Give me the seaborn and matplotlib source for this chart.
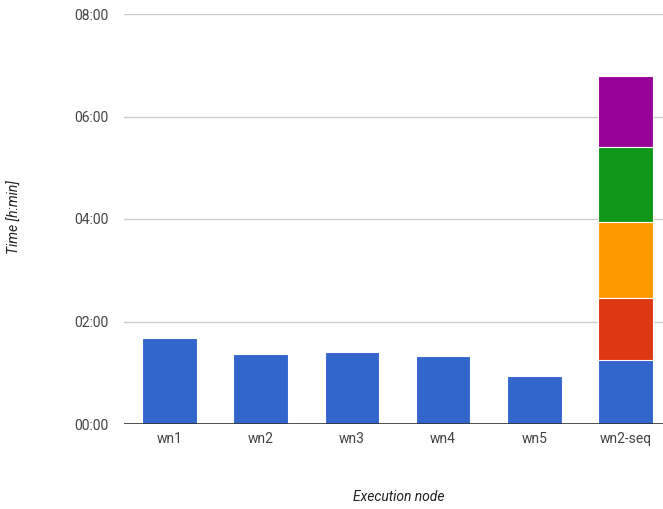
import pandas as pd
import numpy as np
import seaborn as sns
import matplotlib.pyplot as plt

# run times in minutes
nodes = ['wn1', 'wn2', 'wn3', 'wn4', 'wn5', 'wn2-seq']
node_minutes = [101, 82, 84, 80, 56]
seq_minutes = [75, 73, 89, 87, 83]
colors = ['#3366cc', '#dc3912', '#ff9900', '#109618', '#990099']
tick_hours = [0, 2, 4, 6, 8]

sns.set_theme(style='white')
plt.rcParams['font.family'] = ['Roboto', 'DejaVu Sans']

rows = []
cum = np.cumsum(seq_minutes)
for k in range(len(seq_minutes)):
    for i, n in enumerate(nodes[:-1]):
        rows.append({'node': n, 'layer': k, 'hours': node_minutes[i] / 60 if k == 0 else 0})
    rows.append({'node': nodes[-1], 'layer': k, 'hours': cum[k] / 60})
df = pd.DataFrame(rows)

fig = plt.figure(figsize=(6.63, 5.09), dpi=100)
ax = fig.add_axes([124 / 663, 1 - 424 / 509, 1 - 124 / 663, 410 / 509])

# stacked bars: draw the tallest cumulative layer first
for k in reversed(range(len(seq_minutes))):
    sub = df[(df['layer'] == k) & (df['hours'] > 0)]
    sns.barplot(data=sub, x='node', y='hours', order=nodes, color=colors[k],
                width=0.6, saturation=1, edgecolor='white', linewidth=0.8, ax=ax, zorder=3)

ax.set_ylim(0, 8)
ax.set_xlim(-0.5, 5 + (663 - 625.5) / 91.2)
ax.set_yticks(tick_hours)
ax.set_yticklabels([f'{h:02d}:00' for h in tick_hours])
ax.grid(axis='y', color='#cccccc', linewidth=1, zorder=0)
ax.set_axisbelow(True)
ax.axhline(0, color='#333333', linewidth=1.2, zorder=5)
for s in ax.spines.values():
    s.set_visible(False)
ax.tick_params(axis='both', length=0, labelsize=10, labelcolor='#444444')
ax.tick_params(axis='y', pad=11)
ax.tick_params(axis='x', pad=6)
ax.set_xlabel('')
ax.set_ylabel('')

fig.text(15 / 663, 1 - 217 / 509, 'Time [h:min]', rotation=90, style='italic',
         ha='center', va='center', fontsize=10, color='#222222')
fig.text(399 / 663, 1 - 497 / 509, 'Execution node', style='italic',
         ha='center', va='center', fontsize=10, color='#222222')

fig.savefig('out.png', dpi=100)
